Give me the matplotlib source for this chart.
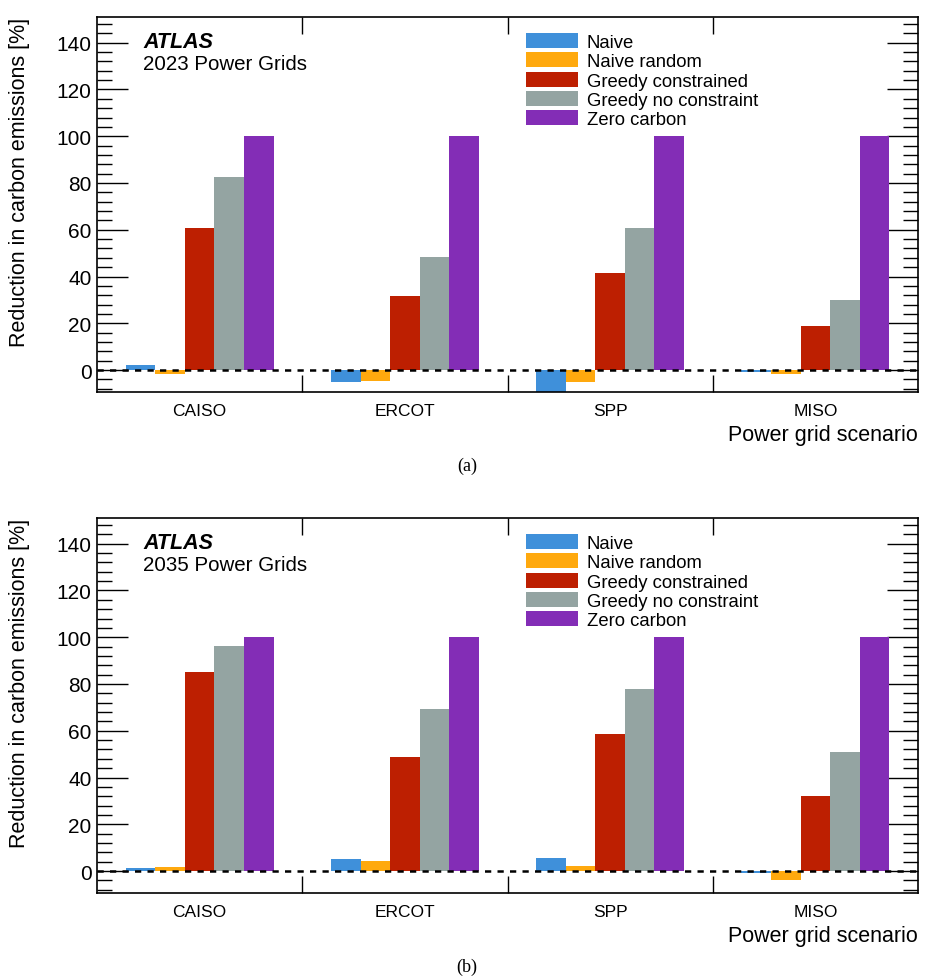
import numpy as np
import matplotlib.pyplot as plt
from matplotlib.ticker import MultipleLocator, FixedLocator, NullFormatter

plt.rcParams['font.family'] = ['Liberation Sans', 'DejaVu Sans']

grids = ["CAISO", "ERCOT", "SPP", "MISO"]
methods = ["Naive", "Naive random", "Greedy constrained", "Greedy no constraint", "Zero carbon"]
colors = ["#3f90da", "#ffa90e", "#bd1f01", "#94a4a2", "#832db6"]

# rows: methods, columns: grids
vals_2023 = [
    [2.0, -5.3, -9.3, -0.7],
    [-1.9, -4.7, -5.2, -1.6],
    [60.7, 31.6, 41.5, 18.8],
    [82.5, 48.3, 60.7, 29.9],
    [100, 100, 100, 100],
]
vals_2035 = [
    [1.3, 5.1, 5.7, -1.0],
    [1.8, 4.3, 2.1, -3.8],
    [85.1, 48.9, 58.7, 31.9],
    [96.2, 69.4, 77.9, 51.1],
    [100, 100, 100, 100],
]

W, H = 934, 979
fig = plt.figure(figsize=(W / 100, H / 100), dpi=100)


def panel(top, bottom, vals, year, tag):
    ax = fig.add_axes([97 / W, 1 - bottom / H, (918 - 97) / W, (bottom - top) / H])
    x = np.arange(len(grids))
    bw = 0.144
    for k, (m, c) in enumerate(zip(methods, colors)):
        ax.bar(x + 0.14 + k * bw, vals[k], width=bw, align='edge', color=c,
               edgecolor='none', label=m, zorder=2)
    ax.axhline(0, color='black', ls=(0, (2.5, 2.5)), lw=1.8, zorder=3)
    ax.set_xlim(0, 4)
    ax.set_ylim(-9.4, 151)

    ax.xaxis.set_major_locator(FixedLocator([1, 2, 3]))
    ax.xaxis.set_major_formatter(NullFormatter())
    ax.xaxis.set_minor_locator(FixedLocator(x + 0.5))
    ax.set_xticklabels(grids, minor=True)
    ax.tick_params(axis='x', which='minor', length=0, labelsize=12.5, pad=8)
    ax.tick_params(axis='x', which='major', direction='in', length=12, width=1, top=True)

    ax.yaxis.set_major_locator(MultipleLocator(20))
    ax.yaxis.set_minor_locator(MultipleLocator(4))
    ax.tick_params(axis='y', which='major', direction='in', length=22, width=1,
                   right=True, labelsize=15, pad=4)
    ax.tick_params(axis='y', which='minor', direction='in', length=11, width=1, right=True)
    for s in ax.spines.values():
        s.set_linewidth(1.2)

    ax.set_ylabel("Reduction in carbon emissions [%]", fontsize=15.5, loc='top')
    ax.yaxis.set_label_coords(-0.082, 1.0)
    ax.set_xlabel("Power grid scenario", fontsize=15.5, loc='right')
    ax.xaxis.set_label_coords(1.0, -0.085)

    ax.text(0.056, 0.935, "ATLAS", transform=ax.transAxes, fontsize=15.5,
            fontweight='bold', fontstyle='italic', va='center')
    ax.text(0.056, 0.875, f"{year} Power Grids", transform=ax.transAxes,
            fontsize=14.8, va='center')

    ax.legend(loc='upper left', bbox_to_anchor=(0.5225, 0.957), frameon=False,
              fontsize=13.3, handlelength=2.8, handleheight=0.86,
              labelspacing=0.08, handletextpad=0.49, borderpad=0, borderaxespad=0)

    fig.text(467 / W, 1 - (top + 448) / H, tag, ha='center', va='center',
             fontsize=13, family='Liberation Serif')
    return ax


panel(18, 393, vals_2023, 2023, "(a)")
panel(519, 894, vals_2035, 2035, "(b)")

fig.savefig("out.png", dpi=100)
